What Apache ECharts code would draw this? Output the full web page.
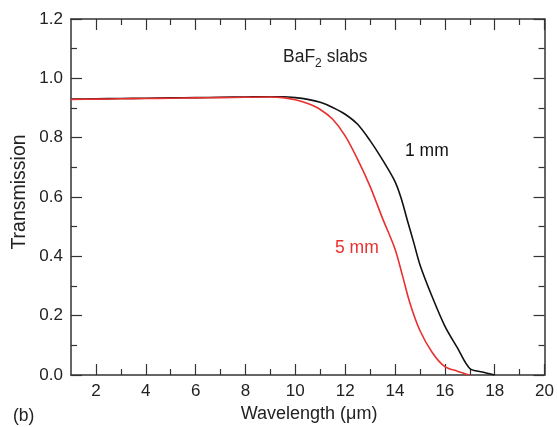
<!DOCTYPE html>
<html><head><meta charset="utf-8">
<script src="https://cdn.jsdelivr.net/npm/echarts@6/dist/echarts.min.js"></script>
<style>html,body{margin:0;padding:0;background:#fff}#c{width:557px;height:427px}</style>
</head><body><div id="c"></div>
<script>
// Data
const wl1mm = [1,2,3,4,5,6,7,8,9,9.5,10,10.5,11,11.5,12,12.5,13,13.5,14,14.25,14.5,14.75,15,15.5,16,16.5,17,17.5,18];
const tr1mm = [0.930,0.931,0.932,0.933,0.934,0.935,0.936,0.937,0.938,0.938,0.935,0.929,0.919,0.902,0.879,0.845,0.790,0.725,0.652,0.595,0.520,0.447,0.372,0.262,0.165,0.092,0.022,0.010,0.0];
const wl5mm = [1,2,3,4,5,6,7,8,9,9.5,10,10.5,11,11.5,12,12.5,13,13.5,14,14.3,14.6,15,15.5,16,16.5,17];
const tr5mm = [0.929,0.930,0.931,0.932,0.933,0.934,0.935,0.936,0.937,0.935,0.928,0.915,0.895,0.862,0.806,0.727,0.636,0.528,0.425,0.335,0.242,0.150,0.075,0.028,0.013,0.0];
const xMajor = [2,4,6,8,10,12,14,16,18,20];
const xMinor = [3,5,7,9,11,13,15,17,19];

const FONT = 'Liberation Sans, Arial, Helvetica, sans-serif';
const TXT = '#222';
const AX = '#333';
const RED = '#e8302f';

function xAx(pos, vals, len, labels, line){
  return {
    type:'value', min:1, max:20, position:pos, gridIndex:0,
    axisLine:{show:line, onZero:false, lineStyle:{color:AX,width:1.5}},
    axisTick:{show:true, inside:true, length:len, customValues:vals, lineStyle:{color:AX,width:1.2}},
    axisLabel:{show:labels, customValues:vals, color:TXT, fontSize:17, fontFamily:FONT, margin:8},
    splitLine:{show:false}
  };
}
function yAx(pos, labels){
  return {
    type:'value', min:0, max:1.2, interval:0.2, position:pos, gridIndex:0,
    axisLine:{show:true, lineStyle:{color:AX,width:1.5}},
    axisTick:{show:true, inside:true, length:11, lineStyle:{color:AX,width:1.2}},
    minorTick:{show:true, splitNumber:2, length:6, lineStyle:{color:AX,width:1.2}},
    axisLabel:{show:labels, color:TXT, fontSize:17, fontFamily:FONT, margin:8, formatter:v=>v.toFixed(1)},
    splitLine:{show:false}
  };
}

const chart = echarts.init(document.getElementById('c'), null, {renderer:'canvas'});
chart.setOption({
  animation:false,
  backgroundColor:'#fff',
  grid:{left:71, right:8, top:19, bottom:52, containLabel:false},
  xAxis:[
    xAx('bottom', xMajor, 11, true, true),
    xAx('bottom', xMinor, 6, false, false),
    xAx('top', xMajor, 11, false, true),
    xAx('top', xMinor, 6, false, false)
  ],
  yAxis:[ yAx('left', true), yAx('right', false) ],
  series:[
    {type:'line', name:'1 mm', xAxisIndex:0, yAxisIndex:0, data:wl1mm.map((x,i)=>[x,tr1mm[i]]),
     showSymbol:false, smooth:0.3, lineStyle:{color:'#111', width:1.6}, z:3},
    {type:'line', name:'5 mm', xAxisIndex:0, yAxisIndex:0, data:wl5mm.map((x,i)=>[x,tr5mm[i]]),
     showSymbol:false, smooth:0.3, lineStyle:{color:RED, width:1.6}, z:4}
  ],
  graphic:[
    {type:'text', x:283, y:55, style:{
      text:'{a|BaF}{s|2}{a| slabs}', fontFamily:FONT, verticalAlign:'middle',
      rich:{a:{fontSize:17.5, fill:TXT, fontFamily:FONT, lineHeight:22, verticalAlign:'bottom'},
            s:{fontSize:12, fill:TXT, fontFamily:FONT, lineHeight:22, verticalAlign:'bottom', padding:[0,0,-4,0]}}}},
    {type:'text', x:405, y:151, style:{text:'1 mm', fontSize:17.5, fontFamily:FONT, fill:'#111', verticalAlign:'middle'}},
    {type:'text', x:335, y:248, style:{text:'5 mm', fontSize:17.5, fontFamily:FONT, fill:RED, verticalAlign:'middle'}},
    {type:'text', x:309, y:414, style:{text:'Wavelength (\u03bcm)', fontSize:18, fontFamily:FONT, fill:TXT, align:'center', verticalAlign:'middle'}},
    {type:'text', x:13, y:416, style:{text:'(b)', fontSize:17.5, fontFamily:FONT, fill:TXT, verticalAlign:'middle'}},
    {type:'text', x:20, y:192, rotation:Math.PI/2, style:{text:'Transmission', fontSize:19.5, fontFamily:FONT, fill:TXT, align:'center', verticalAlign:'middle'}}
  ]
});
</script></body></html>
